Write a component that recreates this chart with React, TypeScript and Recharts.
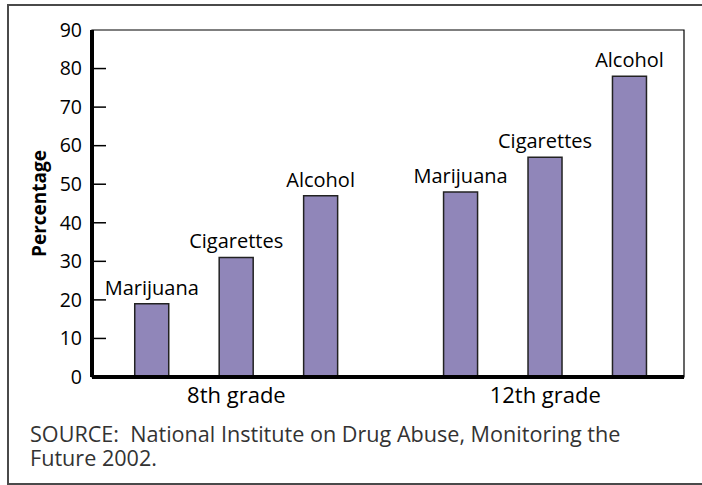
import { BarChart, Bar, XAxis, YAxis, LabelList, ReferenceArea } from 'recharts'

const categories = ['Marijuana', 'Cigarettes', 'Alcohol']
const grades = ['8th grade', '12th grade']
const eighthGrade = [19, 31, 47]
const twelfthGrade = [48, 57, 78]
const yTicks = [0, 10, 20, 30, 40, 50, 60, 70, 80, 90]

// spacing between the two groups, in bar slots
const GROUP_STEP = 3.657
const X_DOMAIN = [0.29, 7.3]

const rows = [eighthGrade, twelfthGrade].flatMap((vals, g) =>
  vals.map((v, i) => ({
    pos: 1 + g * GROUP_STEP + i,
    value: v,
    name: categories[i]
  }))
)
const gradeTicks = grades.map((_, g) => 2 + g * GROUP_STEP)

const FONT = '"Open Sans", sans-serif'

const YTick = (props: any) => {
  const { x, y, payload } = props
  const axisX = x + 10
  const v = payload.value
  return (
    <g>
      {v !== 0 && v !== 90 && (
        <line x1={axisX} x2={axisX + 14} y1={y} y2={y} stroke='#000' strokeWidth={1.5} />
      )}
      <text x={x} y={y} dy='0.35em' textAnchor='end' fontSize={19.5} fill='#000' fontFamily={FONT}>
        {v}
      </text>
    </g>
  )
}

const YLabel = (props: any) => {
  const { viewBox } = props
  const cx = viewBox.x + 7
  const cy = viewBox.y + viewBox.height / 2
  return (
    <text
      x={cx}
      y={cy}
      transform={`rotate(-90 ${cx} ${cy})`}
      textAnchor='middle'
      dominantBaseline='central'
      fontSize={19}
      fontWeight='bold'
      fill='#000'
      fontFamily={FONT}
    >
      Percentage
    </text>
  )
}

export default function App () {
  return (
    <div
      style={{
        position: 'absolute',
        left: 7,
        top: 4,
        width: 693,
        height: 477,
        borderTop: '2px solid #4a4a4a',
        borderLeft: '2px solid #4a4a4a',
        borderBottom: '2px solid #4a4a4a',
        fontFamily: FONT
      }}
    >
      <style>{'body{overflow:hidden}'}</style>
      <div style={{ position: 'absolute', left: 0, top: 0 }}>
        <BarChart
          width={690}
          height={420}
          data={rows}
          margin={{ top: 24, right: 15, bottom: 9, left: 23 }}
        >
          <ReferenceArea
            x1={X_DOMAIN[0]}
            x2={X_DOMAIN[1]}
            y1={0}
            y2={90}
            fill='none'
            stroke='#000'
            strokeWidth={1.2}
            ifOverflow='extendDomain'
          />
          <XAxis
            dataKey='pos'
            type='number'
            domain={X_DOMAIN}
            ticks={gradeTicks}
            tickFormatter={(v: number) => grades[gradeTicks.indexOf(v)] ?? ''}
            tickLine={false}
            tickSize={0}
            tickMargin={10}
            height={40}
            axisLine={{ stroke: '#000', strokeWidth: 4 }}
            tick={{ fontSize: 22, fill: '#000', fontFamily: FONT }}
            allowDataOverflow
          />
          <YAxis
            domain={[0, 90]}
            ticks={yTicks}
            width={60}
            tickLine={false}
            tickSize={0}
            tickMargin={10}
            axisLine={{ stroke: '#000', strokeWidth: 4 }}
            tick={<YTick />}
            label={<YLabel />}
            allowDataOverflow
          />
          <Bar
            dataKey='value'
            fill='#9086b9'
            stroke='#222'
            strokeWidth={1.5}
            barSize={34}
            isAnimationActive={false}
          >
            <LabelList
              dataKey='name'
              position='top'
              offset={9}
              fontSize={20}
              fill='#000'
              fontFamily={FONT}
            />
          </Bar>
        </BarChart>
      </div>
      <div
        style={{
          position: 'absolute',
          left: 21,
          top: 416,
          fontSize: 21.6,
          lineHeight: '24px',
          color: '#333',
          whiteSpace: 'pre'
        }}
      >
        {'SOURCE:  National Institute on Drug Abuse, Monitoring the\nFuture 2002.'}
      </div>
    </div>
  )
}
